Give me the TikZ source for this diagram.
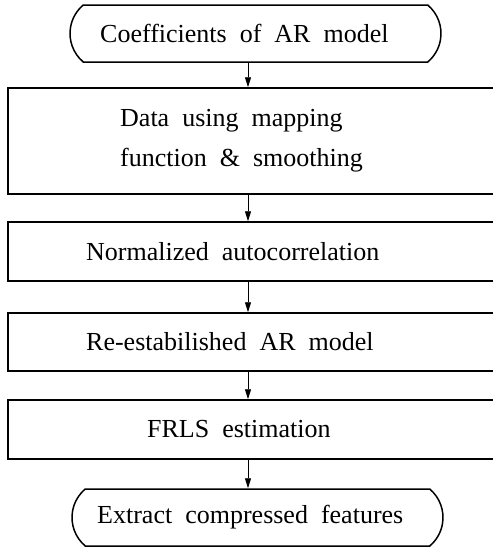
\documentclass[tikz,border=0pt]{standalone}
\usepackage{fontspec}
\setmainfont{Liberation Serif}
\usetikzlibrary{arrows.meta,shapes.misc}
\newcommand\lblfont{\fontsize{26}{40}\selectfont\spaceskip=13pt plus 1pt minus 1pt\relax}
\begin{document}
\begin{tikzpicture}[x=1pt,y=-1pt,
  box/.style={draw,line width=1.5pt,inner sep=0pt,minimum width=492pt},
  term/.style={draw,line width=1.5pt,rounded rectangle,rounded rectangle arc length=100,inner sep=0pt,minimum width=371pt,minimum height=57pt},
  lbl/.style={inner sep=0pt,anchor=west,align=left,font=\lblfont},
  link/.style={line width=0.9pt,-{Triangle[length=10pt,width=6pt]}}]
\clip (0,0) rectangle (493,550);
\coordinate (ax) at (248,0);
\node[term] (t1) at (255.5,33.5) {};
\node[box,minimum height=106pt] (b2) at (254,141) {};
\node[box,minimum height=59pt] (b3) at (254,251.5) {};
\node[box,minimum height=58pt] (b4) at (254,342) {};
\node[box,minimum height=59pt] (b5) at (254,429.5) {};
\node[term] (t2) at (257.5,517.5) {};
\node[lbl] (c1) at (100,33.5) {Coefficients of AR model};
\node[lbl] (c2) at (120,141) {Data using mapping\\function \& smoothing};
\node[lbl] (c3) at (86,251.5) {Normalized autocorrelation};
\node[lbl] (c4) at (86,342) {Re-estabilished AR model};
\node[lbl] (c5) at (147,429.5) {FRLS estimation};
\node[lbl] (c6) at (97,517.5) {Extract compressed features};
\draw[link] (t1.south -| ax) -- (b2.north -| ax);
\draw[link] (b2.south -| ax) -- (b3.north -| ax);
\draw[link] (b3.south -| ax) -- (b4.north -| ax);
\draw[link] (b4.south -| ax) -- (b5.north -| ax);
\draw[link] (b5.south -| ax) -- (t2.north -| ax);
\end{tikzpicture}
\end{document}
